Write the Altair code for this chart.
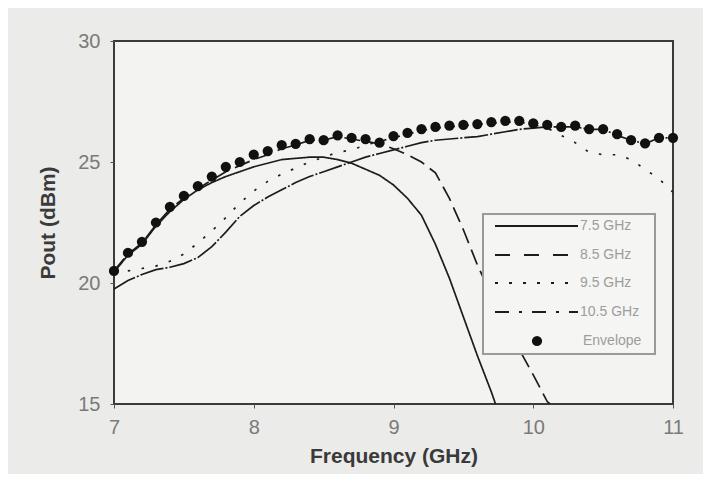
import altair as alt
import pandas as pd

# ---------------- data ----------------
FREQ = [7.0, 7.1, 7.2, 7.3, 7.4, 7.5, 7.6, 7.7, 7.8, 7.9,
        8.0, 8.1, 8.2, 8.3, 8.4, 8.5, 8.6, 8.7, 8.8, 8.9,
        9.0, 9.1, 9.2, 9.3, 9.4, 9.5, 9.6, 9.7, 9.8, 9.9,
        10.0, 10.1, 10.2, 10.3, 10.4, 10.5, 10.6, 10.7, 10.8, 10.9, 11.0]

ENVELOPE = [20.5, 21.25, 21.7, 22.5, 23.15, 23.6, 24.0, 24.4, 24.8, 25.0,
            25.3, 25.45, 25.7, 25.75, 25.95, 25.9, 26.1, 26.0, 25.95, 25.8,
            26.07, 26.2, 26.36, 26.45, 26.5, 26.53, 26.57, 26.65, 26.7, 26.7,
            26.6, 26.53, 26.45, 26.5, 26.36, 26.36, 26.15, 25.9, 25.77, 26.0, 26.0]

F_75 = FREQ[:28] + [9.73]
P_75 = [20.45, 21.15, 21.6, 22.35, 22.95, 23.45, 23.85, 24.15, 24.4, 24.6,
        24.8, 24.95, 25.1, 25.15, 25.2, 25.2, 25.1, 24.95, 24.7, 24.45,
        24.05, 23.5, 22.8, 21.6, 20.2, 18.6, 17.0, 15.5, 15.0]

F_85 = FREQ[:32] + [10.12]
P_85 = [20.5, 21.2, 21.65, 22.4, 23.05, 23.5, 23.9, 24.25, 24.6, 24.85,
        25.1, 25.3, 25.55, 25.7, 25.9, 25.9, 26.05, 25.95, 25.85, 25.75,
        25.55, 25.3, 25.0, 24.55, 23.5, 22.2, 20.75, 19.5, 18.4, 17.25,
        16.2, 15.1, 15.0]

F_95 = FREQ
P_95 = [20.4, 20.5, 20.6, 20.7, 20.9, 21.2, 21.65, 22.15, 22.7, 23.3,
        23.8, 24.2, 24.5, 24.75, 25.0, 25.2, 25.4, 25.5, 25.7, 25.85,
        26.0, 26.15, 26.3, 26.4, 26.45, 26.5, 26.55, 26.6, 26.65, 26.65,
        26.55, 26.4, 26.1, 25.8, 25.4, 25.3, 25.3, 25.1, 24.7, 24.3, 23.75]

F_105 = FREQ
P_105 = [19.75, 20.1, 20.35, 20.55, 20.65, 20.8, 21.05, 21.5, 22.1, 22.75,
         23.2, 23.55, 23.85, 24.15, 24.4, 24.6, 24.8, 25.0, 25.2, 25.35,
         25.5, 25.65, 25.8, 25.9, 25.95, 26.0, 26.05, 26.15, 26.25, 26.35,
         26.4, 26.45, 26.45, 26.45, 26.35, 26.35, 26.1, 25.9, 25.75, 26.0, 26.0]

SERIES = ["7.5 GHz", "8.5 GHz", "9.5 GHz", "10.5 GHz"]
ENV_LABEL = "Envelope"
X_TICKS = [7, 8, 9, 10, 11]
Y_TICKS = [15, 20, 25, 30]

# ---------------- styles ----------------
PLOT_DASH = [[1, 0], [16, 7], [2.5, 11.5], [24, 2, 2, 2]]
LEGEND_DASH = [[1, 0], [15, 14], [3, 11], [14, 10, 3, 10]]
FONT = "Liberation Sans"
INK = "#1c1c1c"

rows = []
for name, fs, ps in zip(SERIES, [F_75, F_85, F_95, F_105], [P_75, P_85, P_95, P_105]):
    for f, p in zip(fs, ps):
        rows.append({"series": name, "freq": f, "pout": p})
lines_df = pd.DataFrame(rows)
env_df = pd.DataFrame({"freq": FREQ, "pout": ENVELOPE})

x_enc = alt.X("freq:Q",
              scale=alt.Scale(domain=[7, 11], nice=False, zero=False),
              axis=alt.Axis(values=X_TICKS, format="d", labelFlush=False,
                            title="Frequency (GHz)",
                            labelPadding=9, titlePadding=8))
y_enc = alt.Y("pout:Q",
              scale=alt.Scale(domain=[15, 30], nice=False, zero=False),
              axis=alt.Axis(values=Y_TICKS, format="d", labelFlush=False,
                            title="Pout (dBm)",
                            labelPadding=10, titlePadding=19))

lines = alt.Chart(lines_df).mark_line(color=INK, strokeWidth=1.7, clip=True).encode(
    x=x_enc,
    y=y_enc,
    strokeDash=alt.StrokeDash("series:N",
                              scale=alt.Scale(domain=SERIES, range=PLOT_DASH),
                              legend=None),
    detail="series:N",
)

points = alt.Chart(env_df).mark_circle(size=105, color="#111111", opacity=1).encode(
    x="freq:Q", y="pout:Q"
)

# ---------------- hand-drawn legend box ----------------
legend_layers = []
frame = alt.Chart(alt.Data(values=[{"k": 1}])).mark_rect(
    fill="#f5f5f3", stroke="#9a9a9a", strokeWidth=2
).encode(x=alt.value(369), x2=alt.value(541), y=alt.value(173), y2=alt.value(313))
legend_layers.append(frame)

ROW_Y = [185, 214, 242, 271, 300]
for i, name in enumerate(SERIES):
    src = alt.Data(values=[{"label": name}])
    legend_layers.append(
        alt.Chart(src).mark_rule(color=INK, strokeWidth=2, strokeDash=LEGEND_DASH[i]).encode(
            x=alt.value(381), x2=alt.value(464), y=alt.value(ROW_Y[i]))
    )
    legend_layers.append(
        alt.Chart(src).mark_text(align="left", baseline="middle", font=FONT,
                                 fontSize=14, color="#9d9d9d").encode(
            x=alt.value(466), y=alt.value(ROW_Y[i]), text="label:N")
    )
env_src = alt.Data(values=[{"label": ENV_LABEL}])
legend_layers.append(
    alt.Chart(env_src).mark_circle(size=105, color="#111111", opacity=1).encode(
        x=alt.value(423), y=alt.value(ROW_Y[4]))
)
legend_layers.append(
    alt.Chart(env_src).mark_text(align="left", baseline="middle", font=FONT,
                                 fontSize=14, color="#9d9d9d").encode(
        x=alt.value(469), y=alt.value(ROW_Y[4]), text="label:N")
)

chart = alt.layer(lines, points, *legend_layers).properties(
    width=559, height=363,
    autosize=alt.AutoSizeParams(type="none"),
    padding={"left": 106, "top": 33, "right": 30, "bottom": 70},
    background="#ebebe9",
).configure_view(
    fill="#f3f3f1", stroke="#3a3a3a", strokeWidth=2
).configure_axis(
    grid=False, domain=False,
    labelFont=FONT, labelFontSize=20, labelColor="#7a7a7a",
    titleFont=FONT, titleFontSize=21, titleColor="#3a3a3a", titleFontWeight="bold",
    tickColor="#555555", tickSize=4,
)

chart.save("out.html", embed_options={"renderer": "svg", "actions": False})
